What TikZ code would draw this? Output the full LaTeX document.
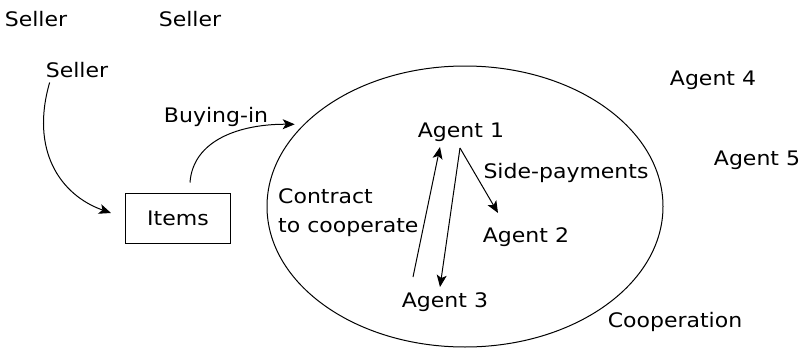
\documentclass[tikz,border=0pt]{standalone}
\usepackage{fontspec}
\setmainfont[FakeStretch=1.1]{DejaVu Sans}
\usetikzlibrary{shapes.geometric,arrows.meta,calc}
\begin{document}
\begin{tikzpicture}[x=1pt,y=-1pt,
  lbl/.style={inner sep=0pt,anchor=base,font=\fontsize{20}{29}\selectfont},
  arr/.style={line width=1pt,-{Stealth[length=12pt,width=10pt,inset=3pt]}},
  boxn/.style={draw,line width=1pt,minimum width=105pt,minimum height=50pt,inner sep=0pt,font=\fontsize{20}{29}\selectfont},
  region/.style={draw,ellipse,line width=1pt,minimum width=396pt,minimum height=281pt,inner sep=0pt}]
\useasboundingbox (0,0) rectangle (806,348);
\node[region] (coop) at (465,206.5) {};
\node[lbl] (s1) at (36,27) {Seller};
\node[lbl] (s2) at (190,27) {Seller};
\node[lbl] (s3) at (77,77) {Seller};
\node[lbl] (buy) at (216,122) {Buying-in};
\node[boxn] (items) at (178,218) {Items};
\node[lbl] (a1) at (461,137) {Agent 1};
\node[lbl] (side) at (566,178) {Side-payments};
\node[lbl,anchor=base west,align=left] (ctr) at (278,232) {Contract\\to cooperate};
\node[lbl] (a2) at (526,242) {Agent 2};
\node[lbl] (a3) at (445,307) {Agent 3};
\node[lbl] (a4) at (713,85) {Agent 4};
\node[lbl] (a5) at (757,165) {Agent 5};
\node[lbl] (coopl) at (675,327) {Cooperation};
% connectors
\draw[arr] ($(s3.south west)+(4,5)$) .. controls (30,150) and (60,195) .. ($(items.west)+(-14,-5)$);
\draw[arr,shorten >=9pt] ($(items.north)+(12,-10)$) .. controls (193,140) and (240,124) .. (coop.153);
\draw[arr] ($(a3.base)+(-32,-30)$) -- ($(a1.base)+(-21,10)$);
\draw[arr] ($(a1.base)+(-1,11)$) -- ($(a3.base)+(-5,-20)$);
\draw[arr] ($(a1.base)+(-1,11)$) -- ($(a2.base)+(-28,-29)$);
\end{tikzpicture}
\end{document}
